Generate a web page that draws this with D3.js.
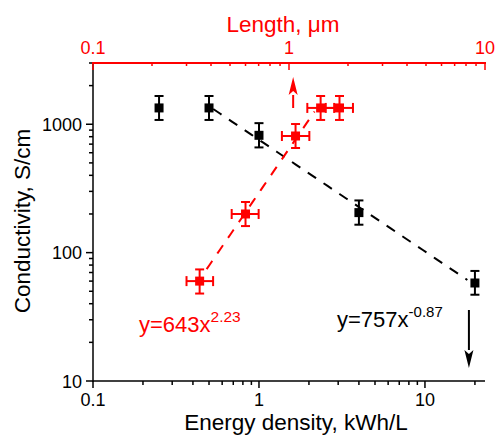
<!DOCTYPE html>
<html>
<head>
<meta charset="utf-8">
<script src="https://cdn.jsdelivr.net/npm/d3@7"></script>
<style>
  body { margin: 0; background: #fff; }
  text { font-family: "Liberation Sans", Arial, sans-serif; }
</style>
</head>
<body>
<svg width="495" height="435"></svg>
<script>
// energy density data (bottom axis, black)
const energy = [0.25, 0.5, 1, 4, 20];
const condE = [1340, 1340, 820, 205, 58];
const condELo = [1080, 1080, 660, 165, 47];
const condEHi = [1660, 1660, 1020, 255, 72];

// length data (top axis, red)
const lengths = [0.35, 0.6, 1.08, 1.45, 1.81];
const lengthLo = [0.30, 0.51, 0.92, 1.24, 1.54];
const lengthHi = [0.41, 0.70, 1.27, 1.70, 2.12];
const condL = [60, 200, 810, 1340, 1340];
const condLLo = [48, 161, 653, 1080, 1080];
const condLHi = [74, 248, 1004, 1660, 1660];

// power-law fits
const fitE = { a: 757, b: -0.87, from: 0.53, to: 18 };
const fitL = { a: 643, b: 2.23, from: 0.38, to: 1.35 };

const bottomTicks = [0.1, 1, 10];
const topTicks = [0.1, 1, 10];
const leftTicks = [10, 100, 1000];

const svg = d3.select("svg");
const mLeft = 93, mRight = 485, mTop = 63, mBottom = 381;
const red = "#ff0000";
const tickFont = 18, titleFont = 22.5;

const x = d3.scaleLog().domain([0.1, 23]).range([mLeft, mRight]);
const xTop = d3.scaleLog().domain([0.1, 10]).range([mLeft, mRight]);
const y = d3.scaleLog().domain([10, 3000]).range([mBottom, mTop]);

function minorTicks(scale, majors) {
  return scale.ticks().filter(t => !majors.includes(t));
}

// bottom axis
const gx = svg.append("g").attr("transform", `translate(0,${mBottom})`);
gx.append("line").attr("x1", mLeft).attr("x2", mRight).attr("stroke", "#000").attr("stroke-width", 1.5);
gx.selectAll(".mn").data(minorTicks(x, bottomTicks)).join("line")
    .attr("x1", d => x(d)).attr("x2", d => x(d))
    .attr("y1", 0).attr("y2", 4)
    .attr("stroke", "#000").attr("stroke-width", 1.5);
gx.selectAll(".mj").data(bottomTicks).join("line")
    .attr("x1", d => x(d)).attr("x2", d => x(d))
    .attr("y1", 0).attr("y2", 7)
    .attr("stroke", "#000").attr("stroke-width", 1.5);
gx.selectAll(".lb").data(bottomTicks).join("text")
    .attr("x", d => x(d)).attr("y", 25)
    .attr("text-anchor", "middle").attr("font-size", tickFont)
    .text(d => d);
svg.append("text")
    .attr("x", 296).attr("y", 430)
    .attr("text-anchor", "middle").attr("font-size", titleFont)
    .text("Energy density, kWh/L");

// left axis
const gy = svg.append("g").attr("transform", `translate(${mLeft},0)`);
gy.append("line").attr("y1", mTop).attr("y2", mBottom + 1).attr("stroke", "#000").attr("stroke-width", 1.5);
gy.selectAll(".mn").data(minorTicks(y, leftTicks)).join("line")
    .attr("y1", d => y(d)).attr("y2", d => y(d))
    .attr("x1", 0).attr("x2", -4)
    .attr("stroke", "#000").attr("stroke-width", 1.5);
gy.selectAll(".mj").data(leftTicks).join("line")
    .attr("y1", d => y(d)).attr("y2", d => y(d))
    .attr("x1", 0).attr("x2", -7)
    .attr("stroke", "#000").attr("stroke-width", 1.5);
gy.selectAll(".lb").data(leftTicks).join("text")
    .attr("x", -11).attr("y", d => y(d) + 6.5)
    .attr("text-anchor", "end").attr("font-size", tickFont)
    .text(d => d);
svg.append("text")
    .attr("transform", "translate(30,221) rotate(-90)")
    .attr("text-anchor", "middle").attr("font-size", titleFont)
    .text("Conductivity, S/cm");

// top axis (red)
const gt = svg.append("g").attr("transform", `translate(0,${mTop})`);
gt.append("line").attr("x1", mLeft - 1).attr("x2", mRight + 1).attr("stroke", red).attr("stroke-width", 2);
gt.selectAll(".mn").data(minorTicks(xTop, topTicks)).join("line")
    .attr("x1", d => xTop(d)).attr("x2", d => xTop(d))
    .attr("y1", 0).attr("y2", 3)
    .attr("stroke", red).attr("stroke-width", 1.5);
gt.selectAll(".mj").data(topTicks).join("line")
    .attr("x1", d => xTop(d)).attr("x2", d => xTop(d))
    .attr("y1", 0).attr("y2", 7)
    .attr("stroke", red).attr("stroke-width", 1.5);
gt.selectAll(".lb").data(topTicks).join("text")
    .attr("x", d => xTop(d)).attr("y", -9)
    .attr("text-anchor", "middle").attr("font-size", tickFont)
    .attr("fill", red)
    .text(d => d);
svg.append("text")
    .attr("x", 283).attr("y", 32)
    .attr("text-anchor", "middle").attr("font-size", titleFont)
    .attr("fill", red)
    .text("Length, \u03bcm");

// fit lines
function fitPath(fit, sx) {
  const pts = d3.range(0, 41).map(i => {
    const v = fit.from * Math.pow(fit.to / fit.from, i / 40);
    return [sx(v), y(fit.a * Math.pow(v, fit.b))];
  });
  return d3.line()(pts);
}
svg.append("path").attr("d", fitPath(fitE, x))
    .attr("fill", "none").attr("stroke", "#000").attr("stroke-width", 2)
    .attr("stroke-dasharray", "10,9");
svg.append("path").attr("d", fitPath(fitL, xTop))
    .attr("fill", "none").attr("stroke", red).attr("stroke-width", 2)
    .attr("stroke-dasharray", "10,9");

// error bars and markers
function drawSeries(xs, ys, yLo, yHi, sx, color, xLo, xHi) {
  const g = svg.append("g").attr("stroke", color).attr("stroke-width", 2).attr("fill", color);
  xs.forEach((v, i) => {
    const cx = sx(v), cy = y(ys[i]);
    const y0 = y(yLo[i]), y1 = y(yHi[i]);
    g.append("line").attr("x1", cx).attr("x2", cx).attr("y1", y0).attr("y2", y1);
    g.append("line").attr("x1", cx - 4.5).attr("x2", cx + 4.5).attr("y1", y0).attr("y2", y0);
    g.append("line").attr("x1", cx - 4.5).attr("x2", cx + 4.5).attr("y1", y1).attr("y2", y1);
    if (xLo) {
      const x0 = sx(xLo[i]), x1 = sx(xHi[i]);
      g.append("line").attr("x1", x0).attr("x2", x1).attr("y1", cy).attr("y2", cy);
      g.append("line").attr("x1", x0).attr("x2", x0).attr("y1", cy - 5).attr("y2", cy + 5);
      g.append("line").attr("x1", x1).attr("x2", x1).attr("y1", cy - 5).attr("y2", cy + 5);
    }
    g.append("rect").attr("x", cx - 4.5).attr("y", cy - 4.5).attr("width", 9).attr("height", 9)
        .attr("stroke", "none");
  });
}
drawSeries(energy, condE, condELo, condEHi, x, "#000");
drawSeries(lengths, condL, condLLo, condLHi, xTop, red, lengthLo, lengthHi);

// arrows
function arrow(xp, y0, y1, color) {
  const dir = Math.sign(y1 - y0);
  const head = 18, half = 4.5;
  svg.append("line")
      .attr("x1", xp).attr("x2", xp)
      .attr("y1", y0).attr("y2", y1 - dir * head)
      .attr("stroke", color).attr("stroke-width", 2);
  svg.append("path")
      .attr("d", `M${xp},${y1}L${xp - half},${y1 - dir * head}L${xp},${y1 - dir * (head - 4)}L${xp + half},${y1 - dir * head}Z`)
      .attr("fill", color);
}
arrow(xTop(1.05), 108, 77, red);
arrow(x(18.4), 310, 368, "#000");

// fit labels
const tE = svg.append("text").attr("x", 337).attr("y", 327).attr("font-size", 22);
tE.append("tspan").text("y=757x");
tE.append("tspan").attr("dy", -10).attr("font-size", 15).text("-0.87");

const tL = svg.append("text").attr("x", 139).attr("y", 332).attr("font-size", 22).attr("fill", red);
tL.append("tspan").text("y=643x");
tL.append("tspan").attr("dy", -10).attr("font-size", 15.5).text("2.23");
</script>
</body>
</html>
